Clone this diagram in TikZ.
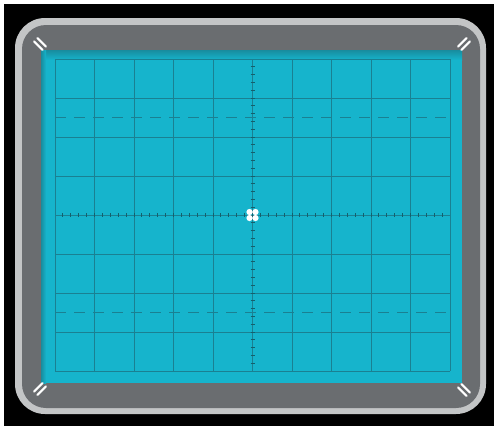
\documentclass[tikz,border=0pt]{standalone}
\usetikzlibrary{calc}
\definecolor{rimlight}{HTML}{C3C5C6}
\definecolor{bezel}{HTML}{6A6D70}
\definecolor{screen}{RGB}{22,180,204}
\definecolor{screendark}{RGB}{24,140,158}
\definecolor{gridc}{RGB}{26,128,146}
\tikzset{
  gridline/.style={draw=gridc, line width=1pt},
  tickline/.style={draw=gridc!75!black, line width=1pt},
  dashline/.style={draw=gridc, line width=1.2pt, dash pattern=on 11pt off 8pt},
  cornermark/.style={draw=white, line width=2.2pt, line cap=round},
  dotmark/.style={fill=white, draw=none}
}
\begin{document}
\begin{tikzpicture}[x=1pt,y=-1pt]
\useasboundingbox (0,0) rectangle (494,426);
\fill[white] (0,0) rectangle (494,426);
\fill[black] (4,4) rectangle (494,426);
% bezel
\fill[rimlight, rounded corners=30pt] (15,18) rectangle (486,414);
\fill[bezel, rounded corners=24pt] (22,25) rectangle (480,408);
% screen
\fill[screen] (41,50) rectangle (462,383);
\shade[top color=screendark, bottom color=screen] (41,50) rectangle (462,60);
\shade[left color=screendark, right color=screen] (41,50) rectangle (46,383);
% grid
\foreach \i in {0,...,10} {
  \draw[gridline] ({55+39.5*\i},59) -- ({55+39.5*\i},371);
}
\foreach \j in {0,...,8} {
  \draw[gridline] (55,{59+39*\j}) -- (450,{59+39*\j});
}
% dashed rise-time lines
\draw[dashline] (55,117.5) -- (450,117.5);
\draw[dashline] (55,312.5) -- (450,312.5);
% axis ticks
\foreach \k in {1,...,39} {
  \draw[tickline] (250.5,{59+7.8*\k}) -- (254.5,{59+7.8*\k});
}
\foreach \k in {1,...,49} {
  \draw[tickline] ({55+7.9*\k},213) -- ({55+7.9*\k},217);
}
% centre marker
\foreach \dx/\dy in {-3/-3,3/-3,-3/3,3/3} {
  \fill[dotmark] ({252.5+\dx},{215+\dy}) circle (3.1pt);
}
% corner marks
\foreach \cx/\cy/\ux/\uy in {40/44/0.707/0.707, 464/44/-0.707/0.707, 40/389/0.707/-0.707, 464/390/-0.707/-0.707} {
  \foreach \s in {-2.4,2.4} {
    \draw[cornermark] ({\cx-6*\ux+\s*\uy},{\cy-6*\uy-\s*\ux}) -- ({\cx+6*\ux+\s*\uy},{\cy+6*\uy-\s*\ux});
  }
}
\end{tikzpicture}
\end{document}
